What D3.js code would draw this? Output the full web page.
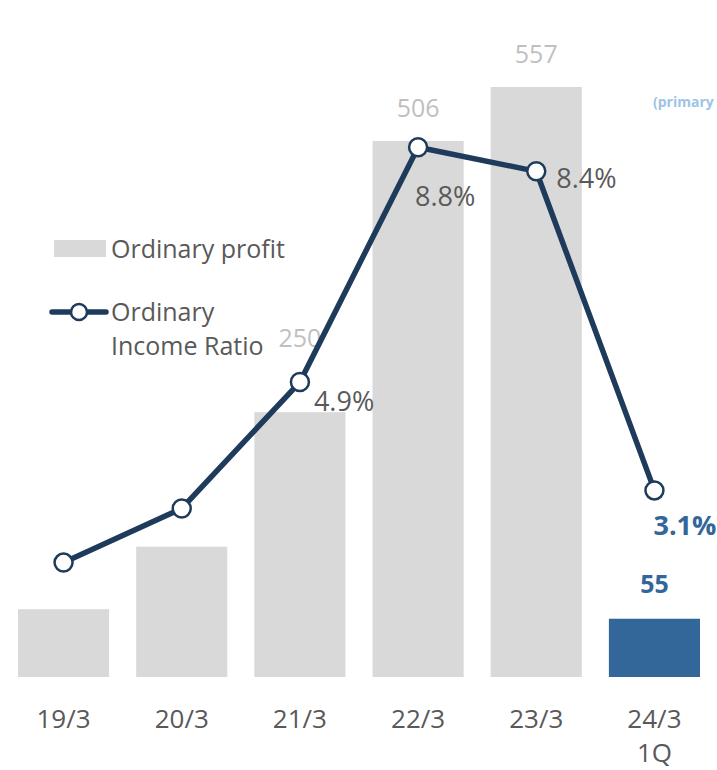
<!DOCTYPE html>
<html lang="en">
<head>
  <meta charset="UTF-8">
  <title>Ordinary profit</title>
  <script src="https://d3js.org/d3.v7.min.js"></script>
  <style>
    body { margin: 0; background: #fff; }
    text { font-family: "Segoe UI", "Open Sans", "Noto Sans", sans-serif; }
    .axis-label { fill: #595959; font-size: 26px; }
    .legend-label { fill: #595959; font-size: 25px; }
    .pct { fill: #595959; font-size: 27px; }
    .val { fill: #bfbfbf; font-size: 25px; }
  </style>
</head>
<body>
<div id="chart"></div>
<script>
  // data
  const categories = ["19/3", "20/3", "21/3", "22/3", "23/3", "24/3\n1Q"];
  const profit = [64, 123, 250, 506, 557, 55];
  const ratio = [1.9, 2.8, 4.9, 8.8, 8.4, 3.1];
  const profitLabels = [null, null, "250", "506", "557", "55"];
  const ratioLabels = [null, null, "4.9%", "8.8%", "8.4%", "3.1%"];

  const width = 717, height = 770;
  const baseY = 677;

  const svg = d3.select("#chart").append("svg")
    .attr("width", width)
    .attr("height", height);

  const x = d3.scaleBand().domain(categories).range([18, 700]).paddingInner(0.229).paddingOuter(0);
  const y = d3.scaleLinear().domain([0, 600]).range([baseY, baseY - 635.6]);
  const y2 = d3.scaleLinear().domain([0, 10]).range([baseY, baseY - 602]);
  const cx = i => x(categories[i]) + x.bandwidth() / 2;

  const last = categories.length - 1;
  const idx = d3.range(categories.length);

  // bars
  svg.selectAll(".bar")
    .data(idx)
    .enter().append("rect")
    .attr("class", "bar")
    .attr("x", i => x(categories[i]))
    .attr("y", i => y(profit[i]))
    .attr("width", x.bandwidth())
    .attr("height", i => baseY - y(profit[i]))
    .attr("fill", i => i === last ? "#336699" : "#d9d9d9");

  // bar value labels (drawn before the line so the line sits on top)
  const valDy = [0, 0, -65, -24, -24, -26];
  svg.selectAll(".val")
    .data(idx.filter(i => profitLabels[i] !== null))
    .enter().append("text")
    .attr("class", "val")
    .attr("x", i => cx(i))
    .attr("y", i => y(profit[i]) + valDy[i])
    .attr("text-anchor", "middle")
    .style("fill", i => i === last ? "#336699" : null)
    .style("font-weight", i => i === last ? "bold" : null)
    .text(i => profitLabels[i]);

  // x axis labels
  svg.selectAll(".axis-label")
    .data(idx)
    .enter().append("text")
    .attr("class", "axis-label")
    .attr("y", 728)
    .attr("text-anchor", "middle")
    .each(function(i) {
      const t = d3.select(this);
      categories[i].split("\n").forEach((s, k) => {
        t.append("tspan")
          .attr("x", cx(i))
          .attr("dy", k === 0 ? 0 : 34)
          .text(s);
      });
    });

  // line
  const pts = idx.map(i => [cx(i), y2(ratio[i])]);
  svg.append("path")
    .attr("d", d3.line()(pts))
    .attr("fill", "none")
    .attr("stroke", "#1f3b5c")
    .attr("stroke-width", 5.5)
    .attr("stroke-linejoin", "round");

  svg.selectAll(".dot")
    .data(pts)
    .enter().append("circle")
    .attr("class", "dot")
    .attr("cx", d => d[0])
    .attr("cy", d => d[1])
    .attr("r", 9)
    .attr("fill", "#fff")
    .attr("stroke", "#1f3b5c")
    .attr("stroke-width", 2.5);

  // ratio labels
  const pctOff = [[0, 0], [0, 0], [14, 29], [-3, 59], [20, 17], [-1, 45]];
  svg.selectAll(".pct")
    .data(idx.filter(i => ratioLabels[i] !== null))
    .enter().append("text")
    .attr("class", "pct")
    .attr("x", i => pts[i][0] + pctOff[i][0])
    .attr("y", i => pts[i][1] + pctOff[i][1])
    .attr("text-anchor", "start")
    .style("fill", i => i === last ? "#336699" : null)
    .style("font-weight", i => i === last ? "bold" : null)
    .text(i => ratioLabels[i]);

  // legend
  const lg = svg.append("g");
  lg.append("rect").attr("x", 54).attr("y", 240).attr("width", 52).attr("height", 17).attr("fill", "#d9d9d9");
  lg.append("text").attr("class", "legend-label").attr("x", 111).attr("y", 258).text("Ordinary profit");
  lg.append("line").attr("x1", 52).attr("x2", 106).attr("y1", 312).attr("y2", 312)
    .attr("stroke", "#1f3b5c").attr("stroke-width", 5.5).attr("stroke-linecap", "round");
  lg.append("circle").attr("cx", 79).attr("cy", 312).attr("r", 8)
    .attr("fill", "#fff").attr("stroke", "#1f3b5c").attr("stroke-width", 2.5);
  lg.append("text").attr("class", "legend-label").attr("x", 111).attr("y", 321).text("Ordinary");
  lg.append("text").attr("class", "legend-label").attr("x", 111).attr("y", 355).text("Income Ratio");

  // clipped note at right edge
  svg.append("text")
    .attr("x", 653).attr("y", 107)
    .style("font-size", "14px").style("font-weight", "bold").style("fill", "#9dc3e6")
    .text("(primary");
</script>
</body>
</html>
